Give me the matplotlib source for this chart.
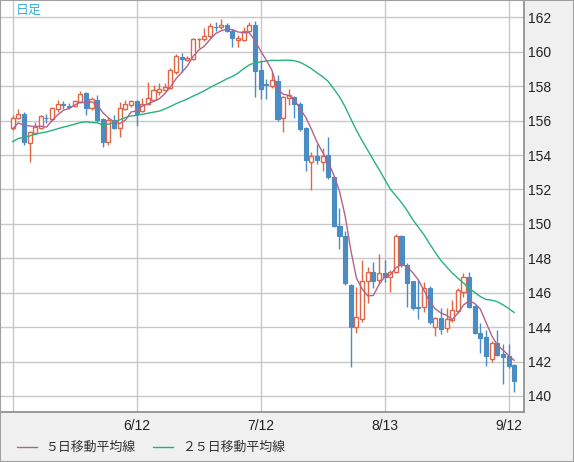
import matplotlib.pyplot as plt
import numpy as np
import pandas as pd
from matplotlib.lines import Line2D
from matplotlib.patches import Rectangle

# daily candles, 5/13 .. 9/13
opens = [155.57, 156.17, 156.40, 154.70, 155.28, 155.57, 156.17, 156.10, 156.70, 156.97,
         156.85, 156.87, 157.08, 157.60, 156.73, 157.18, 156.08, 154.76, 156.02, 155.57,
         156.67, 156.93, 157.12, 156.56, 156.99, 157.22, 157.66, 157.76, 157.91, 158.83,
         159.70, 159.52, 159.60, 160.72, 160.73, 160.90, 161.47, 161.42, 161.55, 161.22,
         160.70, 160.70, 161.22, 161.55, 158.92, 158.12, 158.00, 158.28, 156.15, 157.31,
         157.37, 156.95, 155.57, 153.62, 153.93, 153.60, 153.99, 152.71, 149.90, 149.30,
         146.45, 144.03, 144.47, 146.69, 147.18, 146.72, 147.14, 146.92, 147.22, 149.30,
         147.62, 146.66, 145.17, 145.17, 146.27, 144.01, 144.53, 143.95, 144.42, 144.96,
         146.06, 146.90, 145.23, 143.65, 143.41, 142.13, 143.10, 142.44, 142.33, 141.80]
highs = [156.30, 156.70, 156.50, 155.40, 155.92, 156.30, 156.40, 156.80, 157.18, 157.15,
         157.00, 157.22, 157.72, 157.65, 157.40, 157.47, 156.15, 156.20, 156.30, 157.08,
         157.18, 157.20, 157.20, 157.30, 158.24, 158.05, 158.20, 158.19, 159.04, 159.85,
         159.93, 159.75, 160.80, 160.80, 161.37, 161.70, 161.73, 161.93, 161.65, 161.30,
         160.96, 161.44, 161.73, 161.77, 159.50, 158.44, 158.83, 158.64, 157.45, 157.86,
         157.45, 157.10, 155.65, 154.20, 154.67, 154.40, 155.04, 152.80, 150.90, 149.60,
         146.50, 146.35, 147.90, 147.52, 147.76, 148.26, 147.90, 147.30, 149.40, 149.35,
         147.70, 146.70, 146.74, 146.60, 146.40, 144.60, 145.10, 145.10, 145.58, 146.30,
         147.17, 147.22, 145.30, 144.23, 143.84, 143.20, 143.84, 143.02, 143.02, 141.85]
lows = [155.45, 156.10, 154.60, 153.60, 155.20, 155.50, 155.86, 156.00, 156.50, 156.65,
        156.65, 156.80, 157.00, 156.35, 156.60, 155.90, 154.47, 154.60, 155.50, 155.07,
        156.60, 156.80, 155.70, 156.50, 156.90, 157.15, 157.47, 157.70, 157.85, 158.70,
        158.83, 159.45, 159.50, 160.20, 160.65, 160.80, 161.20, 161.35, 161.15, 160.25,
        160.25, 160.60, 161.15, 157.37, 157.27, 157.27, 157.90, 156.00, 155.34, 156.89,
        156.17, 155.40, 153.07, 151.95, 153.50, 153.10, 152.60, 149.80, 148.53, 146.45,
        141.68, 143.65, 144.30, 145.40, 146.27, 146.55, 146.60, 146.06, 147.15, 147.50,
        145.20, 145.00, 144.46, 144.86, 144.20, 143.47, 143.60, 143.70, 144.30, 144.80,
        145.77, 145.10, 143.60, 142.50, 141.75, 141.99, 142.30, 140.70, 141.60, 140.25]
closes = [156.17, 156.40, 154.76, 155.34, 155.63, 156.25, 156.13, 156.72, 156.95, 156.93,
          156.80, 157.12, 157.57, 156.73, 157.24, 156.02, 154.76, 156.06, 155.57, 156.76,
          156.99, 157.12, 156.40, 156.99, 157.34, 157.76, 157.82, 157.95, 158.92, 159.74,
          159.60, 159.64, 160.73, 160.76, 160.90, 161.48, 161.42, 161.55, 161.22, 160.78,
          160.78, 161.22, 161.55, 158.90, 157.86, 158.05, 158.34, 156.08, 157.37, 157.47,
          156.95, 155.50, 153.73, 153.93, 153.70, 153.93, 152.71, 149.86, 149.28, 146.55,
          144.03, 144.60, 146.69, 147.22, 146.66, 147.14, 146.92, 147.22, 149.32, 147.62,
          146.55, 145.11, 145.11, 146.27, 144.30, 144.53, 143.90, 144.46, 145.00, 146.16,
          146.90, 145.17, 143.65, 143.35, 142.30, 143.10, 142.38, 142.25, 141.74, 140.89]

# closes before the first visible day (only feed the moving averages)
prev_closes = [151.8, 153.2, 153.2, 153.3, 154.2, 154.7, 154.4, 154.6, 154.6, 154.8,
               154.8, 155.3, 155.6, 158.3, 156.4, 157.8, 155.0, 153.0, 153.0, 153.9,
               154.6, 155.5, 155.5, 155.8]

tick_days = [0, 22, 44, 66, 88]
tick_labels = ["", "6/12", "7/12", "8/13", "9/12"]
price_ticks = list(range(140, 163, 2))

UP = "#df6747"
DOWN = "#4a8cc4"
MA5_COLOR = "#b4628d"
MA25_COLOR = "#27b27a"

fig = plt.figure(figsize=(5.74, 4.62), dpi=100, facecolor="#f0f0f0")
ax = fig.add_axes([0, 50 / 462, 523.5 / 574, 412 / 462])
ax.set_facecolor("white")

n = len(closes)
x = np.arange(n)
o = np.array(opens)
c = np.array(closes)
up = c >= o

# wicks under the bodies
ax.vlines(x[up], np.array(lows)[up], np.array(highs)[up], color=UP, lw=1, zorder=2)
ax.vlines(x[~up], np.array(lows)[~up], np.array(highs)[~up], color=DOWN, lw=1, zorder=2)

body_h = np.maximum(np.abs(c - o), 0.03)
body_b = np.minimum(c, o)
ax.bar(x[up], body_h[up], bottom=body_b[up], width=0.72, facecolor="white",
       edgecolor=UP, linewidth=1, zorder=3)
ax.bar(x[~up], body_h[~up], bottom=body_b[~up], width=0.72, facecolor=DOWN,
       edgecolor=DOWN, linewidth=0.8, zorder=3)

# moving averages
s = pd.Series(prev_closes + closes)
ma5 = s.rolling(5).mean().to_numpy()[-n:]
ma25 = s.rolling(25).mean().to_numpy()[-n:]
ax.plot(x, ma25, color=MA25_COLOR, lw=1, zorder=4)
ax.plot(x, ma5, color=MA5_COLOR, lw=1, zorder=4)

ax.set_xlim(-2.24, 90.65)
ax.set_ylim(139.07, 163.01)

ax.set_xticks(tick_days)
ax.set_xticklabels(tick_labels)
ax.set_yticks(price_ticks)
ax.yaxis.tick_right()
ax.tick_params(length=0, labelsize=10, labelcolor="#222222")
ax.tick_params(axis="y", pad=3)
ax.tick_params(axis="x", pad=5)
for lab in ax.get_xticklabels() + ax.get_yticklabels():
    lab.set_family("Liberation Sans")

ax.grid(True, color="#c8c8c8", lw=1)
ax.set_axisbelow(True)
for sp in ax.spines.values():
    sp.set_color("#8a8a8a")
    sp.set_linewidth(1.2)

jp = ["Noto Sans CJK JP", "DejaVu Sans"]
ax.text(15.5 / 523.5, 1 - 10.5 / 412, "日足", transform=ax.transAxes, ha="left", va="center",
        fontsize=9.3, color="#3aaee0", family=jp)

# legend along the bottom
ly = 1 - 447 / 462
fig.add_artist(Line2D([16.5 / 574, 36.6 / 574], [ly, ly], color=MA5_COLOR, lw=1))
fig.text(44.7 / 574, ly, "５日移動平均線", ha="left", va="center", fontsize=9.3,
         color="#333333", family=jp)
fig.add_artist(Line2D([153 / 574, 173 / 574], [ly, ly], color=MA25_COLOR, lw=1))
fig.text(182 / 574, ly, "２５日移動平均線", ha="left", va="center", fontsize=9.3,
         color="#333333", family=jp)

fig.add_artist(Rectangle((0, 0), 1, 1, transform=fig.transFigure, fill=False,
                         edgecolor="#a0a0a0", lw=1.5))

fig.savefig("out.png", dpi=100, facecolor=fig.get_facecolor())
